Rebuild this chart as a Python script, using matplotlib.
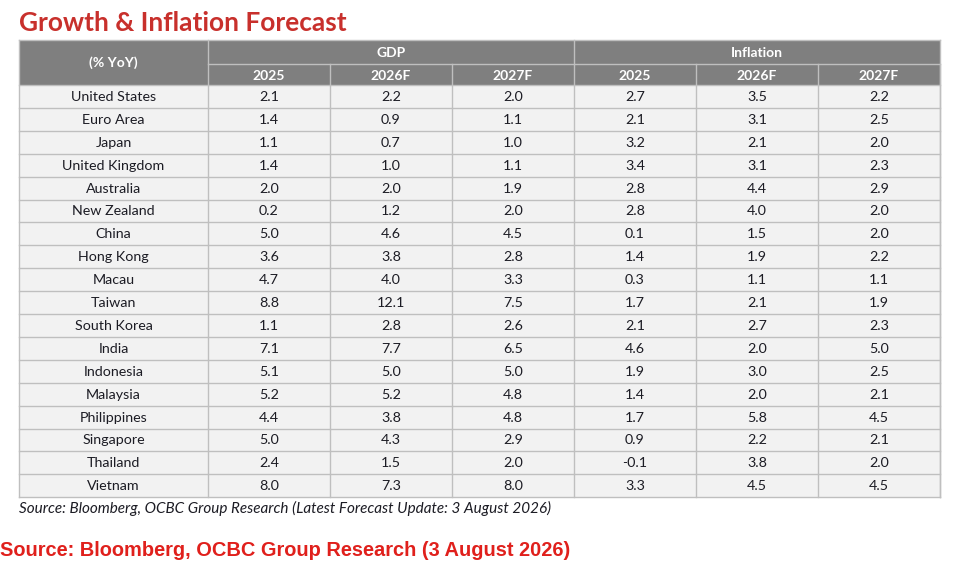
import matplotlib
matplotlib.use("Agg")
import matplotlib.pyplot as plt
from matplotlib.patches import Rectangle

countries = ["United States", "Euro Area", "Japan", "United Kingdom", "Australia",
             "New Zealand", "China", "Hong Kong", "Macau", "Taiwan", "South Korea",
             "India", "Indonesia", "Malaysia", "Philippines", "Singapore", "Thailand",
             "Vietnam"]
years = ["2025", "2026F", "2027F"]
gdp = [
    [2.1, 2.2, 2.0], [1.4, 0.9, 1.1], [1.1, 0.7, 1.0], [1.4, 1.0, 1.1],
    [2.0, 2.0, 1.9], [0.2, 1.2, 2.0], [5.0, 4.6, 4.5], [3.6, 3.8, 2.8],
    [4.7, 4.0, 3.3], [8.8, 12.1, 7.5], [1.1, 2.8, 2.6], [7.1, 7.7, 6.5],
    [5.1, 5.0, 5.0], [5.2, 5.2, 4.8], [4.4, 3.8, 4.8], [5.0, 4.3, 2.9],
    [2.4, 1.5, 2.0], [8.0, 7.3, 8.0],
]
inflation = [
    [2.7, 3.5, 2.2], [2.1, 3.1, 2.5], [3.2, 2.1, 2.0], [3.4, 3.1, 2.3],
    [2.8, 4.4, 2.9], [2.8, 4.0, 2.0], [0.1, 1.5, 2.0], [1.4, 1.9, 2.2],
    [0.3, 1.1, 1.1], [1.7, 2.1, 1.9], [2.1, 2.7, 2.3], [4.6, 2.0, 5.0],
    [1.9, 3.0, 2.5], [1.4, 2.0, 2.1], [1.7, 5.8, 4.5], [0.9, 2.2, 2.1],
    [-0.1, 3.8, 2.0], [3.3, 4.5, 4.5],
]

W, H = 954, 570
fig = plt.figure(figsize=(W / 100, H / 100), dpi=100)
ax = fig.add_axes([0, 0, 1, 1])
ax.set_xlim(0, W)
ax.set_ylim(H, 0)
ax.axis("off")

font = "Lato"
hdr_bg = "#7f7f7f"
row_bg = "#f2f2f2"
line = "#bfbfbf"
red = "#c8302c"
txt = "#1c1c24"

left, first_w, col_w = 19, 189, 122
top, h1, h2 = 40, 24, 21
row_h = 22.9
data_top = top + h1 + h2
n = len(countries)
right = left + first_w + 6 * col_w
bottom = data_top + n * row_h

# header background
ax.add_patch(Rectangle((left, top), right - left, h1 + h2, facecolor=hdr_bg,
                       edgecolor="none"))
# body background
ax.add_patch(Rectangle((left, data_top), right - left, n * row_h,
                       facecolor=row_bg, edgecolor="none"))

# lines
lw = 1.0
ax.plot([left, right], [top, top], color=line, lw=lw)
ax.plot([left + first_w, right], [top + h1, top + h1], color=line, lw=lw)
for i in range(n + 1):
    y = data_top + i * row_h
    ax.plot([left, right], [y, y], color=line, lw=lw)
ax.plot([left, left], [top, bottom], color=line, lw=lw)
ax.plot([right, right], [top, bottom], color=line, lw=lw)
for j in range(7):
    x = left + first_w + j * col_w
    y0 = top if j in (0, 3) else top + h1
    ax.plot([x, x], [y0, bottom], color=line, lw=lw)

# header text
ax.text(left + first_w / 2, top + (h1 + h2) / 2, "(% YoY)", color="white",
        fontsize=10, fontweight="bold", family=font, ha="center", va="center")
groups = ["GDP", "Inflation"]
for g, name in enumerate(groups):
    x0 = left + first_w + g * 3 * col_w
    ax.text(x0 + 1.5 * col_w, top + h1 / 2 + 1, name, color="white", fontsize=10,
            fontweight="bold", family=font, ha="center", va="center")
    for k, yr in enumerate(years):
        ax.text(x0 + (k + 0.5) * col_w, top + h1 + h2 / 2 + 1, yr, color="white",
                fontsize=10, fontweight="bold", family=font, ha="center",
                va="center")

# body text
for i, c in enumerate(countries):
    yc = data_top + (i + 0.5) * row_h + 0.5
    ax.text(left + first_w / 2, yc, c, color=txt, fontsize=10.3, family=font,
            ha="center", va="center")
    vals = gdp[i] + inflation[i]
    for j, v in enumerate(vals):
        ax.text(left + first_w + (j + 0.5) * col_w, yc, f"{v:.1f}",
                color=txt, fontsize=10.3, family=font, ha="center",
                va="center")

ax.text(19, 23, "Growth & Inflation Forecast", color=red, fontsize=18.9,
        fontweight="bold", family=font, ha="left", va="center")
ax.text(19, 508, "Source: Bloomberg, OCBC Group Research (Latest Forecast Update: 3 August 2026)",
        color=txt, fontsize=11, style="italic", family=font, ha="left",
        va="center")
ax.text(0, 551, "Source: Bloomberg, OCBC Group Research (3 August 2026)",
        color="#e0201c", fontsize=14.4, fontweight="bold", family="Liberation Sans",
        ha="left", va="center")

fig.savefig("out.png", dpi=100)
